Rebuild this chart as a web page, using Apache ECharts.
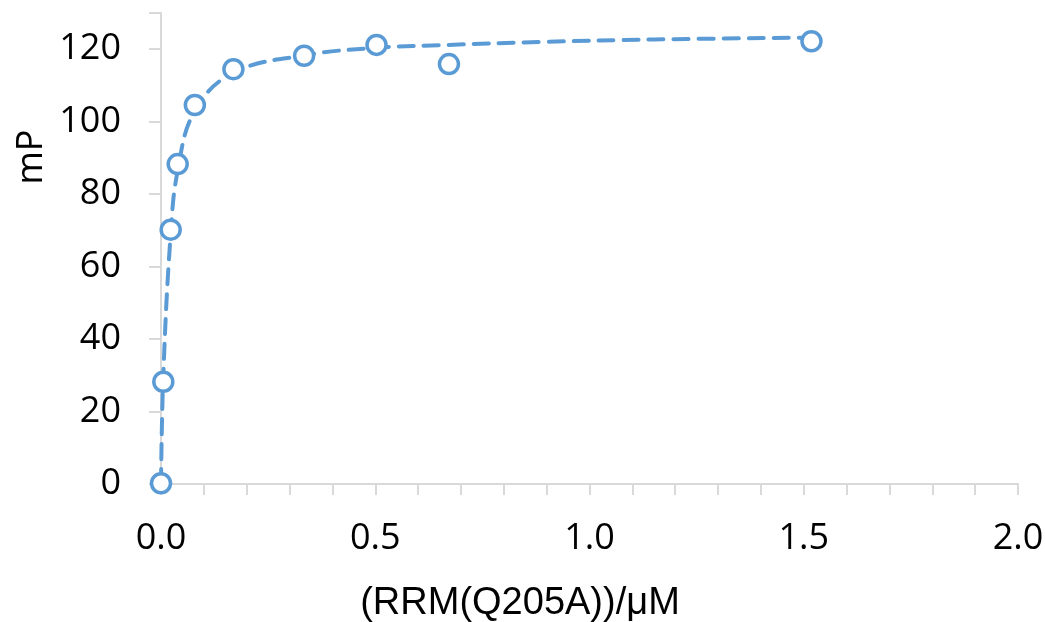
<!DOCTYPE html>
<html>
<head>
<meta charset="utf-8">
<script src="https://cdn.jsdelivr.net/npm/echarts@6/dist/echarts.min.js"></script>
<style>html,body{margin:0;padding:0;background:#fff;}#c{width:1045px;height:622px;}</style>
</head>
<body>
<div id="c"></div>
<script>
// Measured data points: concentration (µM) and mP
var concentrations = [0, 0.0054, 0.0226, 0.039, 0.079, 0.169, 0.334, 0.503, 0.672, 1.518];
var mpValues = [0.2, 28.2, 70.2, 88.3, 104.6, 114.5, 118.2, 121.2, 115.9, 122.2];
// Fit curve (dashed line)
var fitX = [0, 0.0054, 0.0226, 0.039, 0.079, 0.169, 0.334, 0.503, 0.672, 0.884, 1.15, 1.518];
var fitY = [0, 30, 69, 86.5, 103, 113.5, 118.3, 120.4, 121.2, 122.0, 122.7, 123.2];
var xTicks = [0, 0.5, 1.0, 1.5, 2.0];
var yTicks = [0, 20, 40, 60, 80, 100, 120];
var xTitle = '(RRM(Q205A))/\u03bcM';
var yTitle = 'mP';

var blue = '#5b9bd5';
var chart = echarts.init(document.getElementById('c'));
chart.setOption({
  animation: false,
  backgroundColor: '#fff',
  grid: {left: 161, right: 27, top: 13, bottom: 138, containLabel: false, outerBoundsMode: 'none'},
  xAxis: {
    type: 'value', min: 0, max: 2, interval: 0.5,
    axisLine: {show: true, lineStyle: {color: '#d9d9d9', width: 2}},
    axisTick: {show: true, length: 11, lineStyle: {color: '#d9d9d9', width: 2}},
    minorTick: {show: true, splitNumber: 5, length: 11, lineStyle: {color: '#d9d9d9', width: 2}},
    splitLine: {show: false},
    axisLabel: {color: '#000', fontSize: 36, fontFamily: 'Open Sans', margin: 37,
      formatter: function (v) { return xTicks.indexOf(v) >= 0 ? v.toFixed(1) : ''; }}
  },
  yAxis: {
    type: 'value', min: 0, max: 130, interval: 20,
    axisLine: {show: true, lineStyle: {color: '#d9d9d9', width: 2}},
    axisTick: {show: true, length: 12, lineStyle: {color: '#d9d9d9', width: 2}},
    splitLine: {show: false},
    axisLabel: {color: '#000', fontSize: 36, fontFamily: 'Open Sans', margin: 40,
      formatter: function (v) { return yTicks.indexOf(v) >= 0 ? String(v) : ''; }}
  },
  graphic: [{
    type: 'text', rotation: Math.PI / 2, x: 32, y: 157,
    style: {text: yTitle, fill: '#000', font: '36px "Open Sans"', textAlign: 'center', textVerticalAlign: 'middle'}
  }, {
    type: 'text', x: 520, y: 604,
    style: {text: xTitle, fill: '#000', font: '38px "Liberation Sans"', textAlign: 'center', textVerticalAlign: 'middle'}
  }],
  series: [{
    type: 'line', data: fitX.map(function (x, i) { return [x, fitY[i]]; }),
    smooth: 0.4, showSymbol: false, symbol: 'none',
    lineStyle: {color: blue, width: 4, type: [15, 10], cap: 'round', opacity: 1}, z: 2
  }, {
    type: 'scatter', data: concentrations.map(function (x, i) { return [x, mpValues[i]]; }),
    symbol: 'circle', symbolSize: 19,
    itemStyle: {color: '#fff', borderColor: blue, borderWidth: 3.5, opacity: 1}, z: 3
  }]
});
</script>
</body>
</html>
